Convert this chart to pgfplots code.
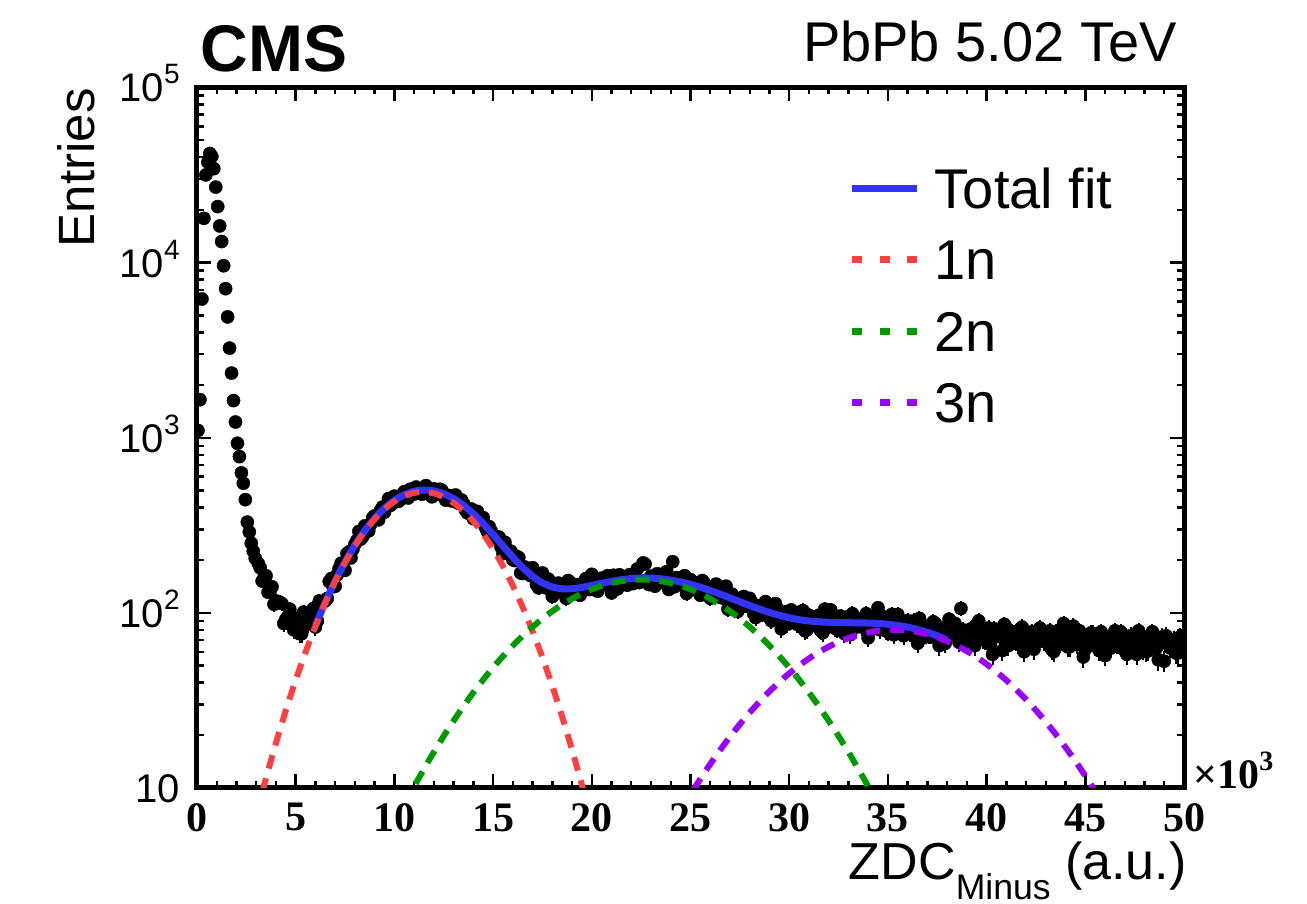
\documentclass[border=0pt]{standalone}
\usepackage{pgfplots}
\pgfplotsset{compat=1.18}
\usepackage{pgfplotstable}
\usepackage{fontspec}
\setmainfont{Liberation Sans}
\newfontfamily\tnr{Liberation Serif}
\definecolor{fitblue}{RGB}{51,51,255}
\definecolor{fitred}{RGB}{255,64,64}
\definecolor{fitgreen}{RGB}{0,153,0}
\definecolor{fitviolet}{RGB}{153,0,255}
\newcommand\sups[1]{\raisebox{9bp}{\fontsize{14bp}{14bp}\selectfont #1}}

\pgfplotstableread{
x y
0.05 1100
0.15 1650
0.25 6200
0.35 17900
0.45 31700
0.55 37500
0.65 42000
0.75 40400
0.85 34400
0.95 27000
1.05 20900
1.15 16200
1.25 13200
1.35 9600
1.45 7100
1.55 4900
1.65 3250
1.75 2340
1.85 1630
1.95 1230
2.05 930
2.15 780
2.25 630
2.35 550
2.45 443
2.55 330
2.65 290
2.75 250
2.85 225
2.95 205
3.1 192
3.3 152
3.5 163
3.7 132
3.9 112
4.1 116
4.3 113
4.5 92
4.7 105
4.9 80
5.1 86
5.3 76
5.5 95
5.7 90
5.9 106
6.1 90
6.3 115
6.5 117
6.7 151
6.9 141
7.1 165
7.3 192
7.5 175
7.7 223
7.9 231
8.1 259
8.3 264
8.5 314
8.7 294
8.9 349
9.1 351
9.3 386
9.5 376
9.7 449
9.9 422
10.1 450
10.3 442
10.5 492
10.7 453
10.9 499
11.1 523
11.3 488
11.5 501
11.7 514
11.9 460
12.1 500
12.3 508
12.5 463
12.7 469
12.9 436
13.1 471
13.3 422
13.5 421
13.7 372
13.9 392
14.1 348
14.3 341
14.5 350
14.7 292
14.9 294
15.1 266
15.3 271
15.5 218
15.7 231
15.9 225
16.1 199
16.3 207
16.5 168
16.7 179
16.9 163
17.1 167
17.3 139
17.5 169
17.7 139
17.9 142
18.1 129
18.3 148
18.5 141
18.7 121
18.9 149
19.1 137
19.3 145
19.5 132
19.7 157
19.9 136
20.1 147
20.3 133
20.5 158
20.7 150
20.9 146
21.1 164
21.3 137
21.5 160
21.7 153
21.9 165
22.1 147
22.3 178
22.5 152
22.7 190
22.9 145
23.1 160
23.3 167
23.5 149
23.7 169
23.9 136
24.1 196
24.3 159
24.5 146
24.7 163
24.9 135
25.1 149
25.3 141
25.5 126
25.7 148
25.9 141
26.1 125
26.3 146
26.5 123
26.7 127
26.9 105
27.1 128
27.3 121
27.5 107
27.7 124
27.9 109
28.1 115
28.3 94
28.5 107
28.7 111
28.9 96
29.1 90
29.3 113
29.5 94
29.7 100
29.9 86
30.1 104
30.3 92
30.5 86
30.7 103
30.9 80
31.1 94
31.3 86
31.5 97
31.7 77
31.9 90
32.1 104
32.3 82
32.5 89
32.7 85
32.9 94
33.1 75
33.3 95
33.5 91
33.7 83
33.9 99
34.1 79
34.3 91
34.5 107
34.7 96
34.9 79
35.1 86
35.3 75
35.5 98
35.7 82
35.9 89
36.1 77
36.3 90
36.5 67
36.7 82
36.9 84
37.1 75
37.3 89
37.5 71
37.7 80
37.9 67
38.1 92
38.3 82
38.5 74
38.7 106
38.9 68
39.1 79
39.3 70
39.5 86
39.7 75
39.9 70
40.1 82
40.3 58
40.5 77
40.7 73
40.9 86
41.1 65
41.3 78
41.5 71
41.7 81
41.9 60
42.1 73
42.3 78
42.5 67
42.7 82
42.9 69
43.1 75
43.3 62
43.5 78
43.7 67
43.9 87
44.1 64
44.3 72
44.5 69
44.7 79
44.9 56
45.1 73
45.3 77
45.5 65
45.7 61
45.9 74
46.1 70
46.3 63
46.5 79
46.7 66
46.9 71
47.1 58
47.3 74
47.5 68
47.7 79
47.9 62
48.1 60
48.3 71
48.5 68
48.7 54
48.9 73
49.1 74
49.3 63
49.5 70
49.7 59
49.9 68
3.2 181
3.4 159
3.6 131
3.8 141
4.0 117
4.2 115
4.4 87
4.6 95
4.8 96
5.0 80
5.2 76
5.4 101
5.6 86
5.8 97
6.0 83
6.2 117
6.4 116
6.6 121
6.8 157
7.0 142
7.2 179
7.4 184
7.6 218
7.8 206
8.0 247
8.2 292
8.4 273
8.6 307
8.8 321
9.0 358
9.2 340
9.4 402
9.6 410
9.8 411
10.0 464
10.2 433
10.4 474
10.6 475
10.8 508
11.0 477
11.2 498
11.4 476
11.6 533
11.8 495
12.0 511
12.2 477
12.4 502
12.6 440
12.8 467
13.0 464
13.2 425
13.4 441
13.6 386
13.8 389
14.0 345
14.2 380
14.4 341
14.6 310
14.8 311
15.0 264
15.2 270
15.4 238
15.6 253
15.8 221
16.0 201
16.2 210
16.4 169
16.6 183
16.8 168
17.0 181
17.2 145
17.4 158
17.6 144
17.8 156
18.0 124
18.2 140
18.4 146
18.6 130
18.8 153
19.0 134
19.2 144
19.4 126
19.6 150
19.8 137
20.0 166
20.2 135
20.4 149
20.6 146
20.8 163
21.0 130
21.2 158
21.4 165
21.6 149
21.8 144
22.0 165
22.2 159
22.4 149
22.6 193
22.8 154
23.0 162
23.2 142
23.4 166
23.6 156
23.8 172
24.0 146
24.2 141
24.4 157
24.6 152
24.8 129
25.0 155
25.2 149
25.4 132
25.6 153
25.8 133
26.0 121
26.2 134
26.4 139
26.6 122
26.8 142
27.0 115
27.2 120
27.4 102
27.6 122
27.8 111
28.0 121
28.2 99
28.4 110
28.6 99
28.8 116
29.0 94
29.2 99
29.4 106
29.6 81
29.8 101
30.0 92
30.2 96
30.4 86
30.6 102
30.8 79
31.0 97
31.2 87
31.4 94
31.6 79
31.8 105
32.0 85
32.2 90
32.4 81
32.6 96
32.8 76
33.0 92
33.2 99
33.4 83
33.6 87
33.8 93
34.0 72
34.2 90
34.4 96
34.6 80
34.8 87
35.0 78
35.2 98
35.4 83
35.6 89
35.8 74
36.0 90
36.2 77
36.4 81
36.6 93
36.8 72
37.0 82
37.2 75
37.4 87
37.6 65
37.8 80
38.0 84
38.2 75
38.4 87
38.6 68
38.8 80
39.0 75
39.2 81
39.4 65
39.6 90
39.8 71
40.0 75
40.2 66
40.4 81
40.6 76
40.8 61
41.0 82
41.2 72
41.4 77
41.6 66
41.8 83
42.0 67
42.2 73
42.4 62
42.6 79
42.8 72
43.0 68
43.2 79
43.4 60
43.6 74
43.8 69
44.0 76
44.2 64
44.4 84
44.6 66
44.8 73
45.0 62
45.2 71
45.4 76
45.6 64
45.8 78
46.0 57
46.2 69
46.4 74
46.6 66
46.8 78
47.0 61
47.2 71
47.4 67
47.6 58
47.8 75
48.0 71
48.2 61
48.4 78
48.6 63
48.8 67
49.0 53
49.2 71
49.4 68
49.6 59
49.8 73
}\zdcdata

\begin{document}
\begin{tikzpicture}
\useasboundingbox (-98.5bp,-58bp) rectangle (555bp,394bp);
\begin{axis}[
  at={(0bp,0bp)}, anchor=south west,
  scale only axis, width=493.5bp, height=350.25bp,
  xmin=0, xmax=50, ymode=log, ymin=10, ymax=1e5,
  clip marker paths=true,
  axis line style={line width=2.5bp, black},
  tick pos=both, tick align=inside,
  major tick length=7bp, minor tick length=3.5bp,
  every tick/.style={black, line width=1.2bp},
  xtick={0,5,...,50}, minor x tick num=4,
  xticklabels={0,5,10,15,20,25,30,35,40,45,50},
  xticklabel style={font=\tnr\bfseries\fontsize{21bp}{21bp}\selectfont, anchor=north, inner sep=0pt, yshift=-7.5bp},
  ytick={10,100,1000,10000,100000},
  yticklabels={10,10\sups{2},10\sups{3},10\sups{4},10\sups{5}},
  yticklabel style={font=\fontsize{20bp}{20bp}\selectfont, anchor=base east, inner sep=0pt, xshift=-8.5bp, yshift=-7.2bp},
  legend style={draw=none, fill=none, at={(0.660,0.885)}, anchor=north west, inner sep=0pt, row sep=15.7bp, column sep=7bp, font=\fontsize{28bp}{28bp}\selectfont, nodes={inner sep=0pt, text height=20bp, text depth=0pt}},
  legend cell align=left,
  legend image code/.code={\draw[#1] (0bp,0bp) -- (32.5bp,0bp);},
]
\addplot[forget plot, only marks, mark=*, mark size=3.3bp, black, mark options={solid, fill=black, draw=black, line width=0.2bp},
  error bars/.cd, y dir=both, y explicit, error mark=none, error bar style={line width=1bp, black}]
  table[x=x, y=y, y error expr=sqrt(\thisrow{y})] {\zdcdata};

\addplot[color=fitblue, line width=3.5bp, smooth] coordinates {
(6.0,84.4)(6.5,115.0)(7.0,152.1)(7.5,195.3)(8.0,243.6)(8.5,294.9)(9.0,346.7)(9.5,395.7)(10.0,438.6)(10.5,472.4)(11.0,494.3)(11.5,502.8)(12.0,497.3)(12.5,478.7)(13.0,449.0)(13.5,411.0)(14.0,368.0)(14.5,323.4)(15.0,280.3)(15.5,241.4)(16.0,208.1)(16.5,181.5)(17.0,161.7)(17.5,148.3)(18.0,140.6)(18.5,137.3)(19.0,137.4)(19.5,139.8)(20.0,143.4)(20.5,147.5)(21.0,151.4)(21.5,154.7)(22.0,157.0)(22.5,158.2)(23.0,158.0)(23.5,156.5)(24.0,153.9)(24.5,150.2)(25.0,145.5)(25.5,140.1)(26.0,134.2)(26.5,128.0)(27.0,121.8)(27.5,115.8)(28.0,110.1)(28.5,105.0)(29.0,100.6)(29.5,96.8)(30.0,93.8)(30.5,91.5)(31.0,89.9)(31.5,88.9)(32.0,88.3)(32.5,88.0)(33.0,87.9)(33.5,87.7)(34.0,87.5)(34.5,87.0)(35.0,86.1)(35.5,84.7)(36.0,82.9)(36.5,80.4)(37.0,77.5)(37.5,74.0)(38.0,70.0)};
\addlegendentry{Total fit}

\addplot[color=fitred, line width=3bp, dash pattern=on 7bp off 5bp, smooth, legend image post style={dash pattern=on 5bp off 8.75bp, line width=3.5bp}] coordinates {
(3.0,7.02)(3.5,11.44)(4.0,18.07)(4.5,27.73)(5.0,41.32)(5.5,59.72)(6.0,83.8)(6.5,114.2)(7.0,151.0)(7.5,193.8)(8.0,241.5)(8.5,292.1)(9.0,343.0)(9.5,390.9)(10.0,432.4)(10.5,464.4)(11.0,484.1)(11.5,489.9)(12.0,481.3)(12.5,458.9)(13.0,424.8)(13.5,381.7)(14.0,332.9)(14.5,281.9)(15.0,231.6)(15.5,184.8)(16.0,143.1)(16.5,107.6)(17.0,78.5)(17.5,55.6)(18.0,38.2)(18.5,25.5)(19.0,16.5)(19.5,10.4)(20.0,6.35)};
\addlegendentry{1n}

\addplot[color=fitgreen, line width=3bp, dash pattern=on 7bp off 5bp, smooth, legend image post style={dash pattern=on 5bp off 8.75bp, line width=3.5bp}] coordinates {
(10.5,8.01)(11.0,10.20)(11.5,12.85)(12.0,16.04)(12.5,19.81)(13.0,24.20)(13.5,29.28)(14.0,35.07)(14.5,41.54)(15.0,48.72)(15.5,56.56)(16.0,64.98)(16.5,73.90)(17.0,83.17)(17.5,92.67)(18.0,102.2)(18.5,111.5)(19.0,120.5)(19.5,128.8)(20.0,136.3)(20.5,142.8)(21.0,148.0)(21.5,151.8)(22.0,154.2)(22.5,155.0)(23.0,154.2)(23.5,151.8)(24.0,148.0)(24.5,142.8)(25.0,136.3)(25.5,128.8)(26.0,120.5)(26.5,111.5)(27.0,102.2)(27.5,92.67)(28.0,83.17)(28.5,73.90)(29.0,64.98)(29.5,56.56)(30.0,48.72)(30.5,41.54)(31.0,35.07)(31.5,29.28)(32.0,24.20)(32.5,19.81)(33.0,16.04)(33.5,12.85)(34.0,10.20)(34.5,8.01)};
\addlegendentry{2n}

\addplot[color=fitviolet, line width=3bp, dash pattern=on 7bp off 5bp, smooth, legend image post style={dash pattern=on 5bp off 8.75bp, line width=3.5bp}] coordinates {
(24.5,7.40)(25.0,9.18)(25.5,11.27)(26.0,13.69)(26.5,16.47)(27.0,19.62)(27.5,23.11)(28.0,26.96)(28.5,31.14)(29.0,35.59)(29.5,40.26)(30.0,45.10)(30.5,49.99)(31.0,54.86)(31.5,59.58)(32.0,64.06)(32.5,68.17)(33.0,71.82)(33.5,74.88)(34.0,77.29)(34.5,78.96)(35.0,79.85)(35.5,79.93)(36.0,79.20)(36.5,77.68)(37.0,75.42)(37.5,72.47)(38.0,68.94)(38.5,64.91)(39.0,60.50)(39.5,55.82)(40.0,50.97)(40.5,46.07)(41.0,41.22)(41.5,36.51)(42.0,32.01)(42.5,27.77)(43.0,23.86)(43.5,20.28)(44.0,17.07)(44.5,14.22)(45.0,11.73)(45.5,9.57)(46.0,7.73)};
\addlegendentry{3n}
\end{axis}

\node[anchor=base west, inner sep=0pt, font=\bfseries\fontsize{33bp}{33bp}\selectfont] at (1.5bp,358bp) {CMS};
\node[anchor=base east, inner sep=0pt, font=\fontsize{28bp}{28bp}\selectfont] at (490bp,363bp) {PbPb 5.02 TeV};
\node[rotate=90, anchor=base east, inner sep=0pt, font=\fontsize{25.5bp}{25.5bp}\selectfont] at (-51bp,350bp) {Entries};
\node[anchor=base east, inner sep=0pt, font=\fontsize{26bp}{26bp}\selectfont] at (495bp,-45.5bp) {ZDC\raisebox{-10bp}{\fontsize{17.8bp}{17.8bp}\selectfont Minus} (a.u.)};
\node[anchor=base west, inner sep=0pt, font=\tnr\bfseries\fontsize{21bp}{21bp}\selectfont] at (498bp,0bp) {×10\sups{3}};
\end{tikzpicture}
\end{document}
